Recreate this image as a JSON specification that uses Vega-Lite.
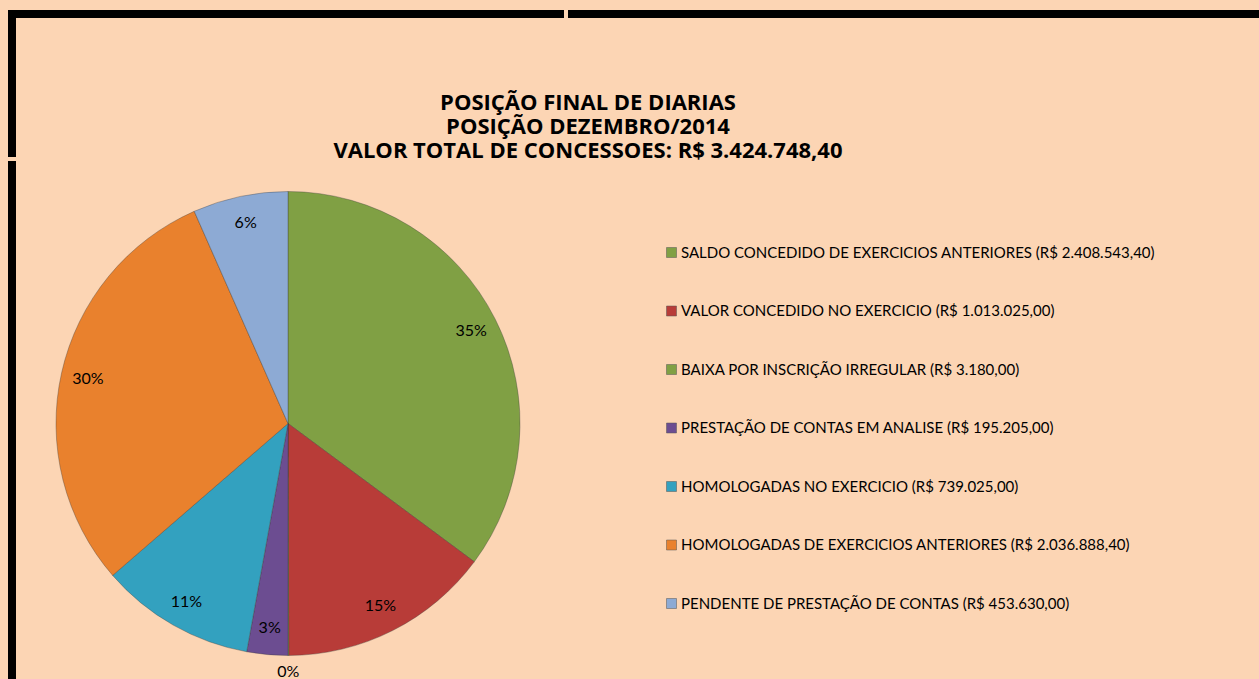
{
  "$schema": "https://vega.github.io/schema/vega-lite/v6.json",
  "autosize": {"type": "pad"},
  "padding": {"left": 8, "top": 10, "right": 0, "bottom": 0},
  "background": "#FCD5B4",
  "title": {
    "text": ["POSIÇÃO FINAL DE DIARIAS", "POSIÇÃO DEZEMBRO/2014", "VALOR TOTAL DE CONCESSOES: R$ 3.424.748,40"],
    "font": "Open Sans",
    "fontSize": 22,
    "fontWeight": "bold",
    "color": "black",
    "lineHeight": 24,
    "anchor": "middle",
    "offset": 0,
    "dx": -51,
    "dy": 153,
    "zindex": 1
  },
  "datasets": {
    "diarias": [
      {"cat": "SALDO CONCEDIDO DE EXERCICIOS ANTERIORES (R$ 2.408.543,40)", "value": 2408543.40, "pct": "35%", "idx": 1},
      {"cat": "VALOR CONCEDIDO NO EXERCICIO (R$ 1.013.025,00)", "value": 1013025.00, "pct": "15%", "idx": 2},
      {"cat": "BAIXA POR INSCRIÇÃO IRREGULAR (R$ 3.180,00)", "value": 3180.00, "pct": "0%", "idx": 3},
      {"cat": "PRESTAÇÃO DE CONTAS EM ANALISE (R$ 195.205,00)", "value": 195205.00, "pct": "3%", "idx": 4},
      {"cat": "HOMOLOGADAS NO EXERCICIO (R$ 739.025,00)", "value": 739025.00, "pct": "11%", "idx": 5},
      {"cat": "HOMOLOGADAS DE EXERCICIOS ANTERIORES (R$ 2.036.888,40)", "value": 2036888.40, "pct": "30%", "idx": 6},
      {"cat": "PENDENTE DE PRESTAÇÃO DE CONTAS (R$ 453.630,00)", "value": 453630.00, "pct": "6%", "idx": 7}
    ]
  },
  "spacing": -16,
  "hconcat": [
    {
      "spacing": -16,
      "vconcat": [
        {
          "width": 552,
          "height": 143,
          "view": {"fill": "#FCD5B4", "stroke": "black", "strokeWidth": 8, "strokeDash": [552, 695, 143]},
          "data": {"values": []},
          "mark": {"type": "point", "opacity": 0},
          "encoding": {}
        },
        {
          "width": 552,
          "height": 525,
          "view": {"fill": "#FCD5B4", "stroke": "black", "strokeWidth": 8, "strokeDash": [0, 1629, 525]},
          "data": {"name": "diarias"},
          "encoding": {
            "theta": {"field": "value", "type": "quantitative", "stack": true},
            "order": {"field": "idx", "type": "quantitative"}
          },
          "layer": [
            {
              "mark": {"type": "arc", "outerRadius": 232, "stroke": "#3a3a3a", "strokeOpacity": 0.35, "strokeWidth": 1},
              "encoding": {
                "color": {
                  "field": "cat",
                  "type": "nominal",
                  "sort": null,
                  "scale": {
                    "range": ["#80A044", "#B83C38", "#80A044", "#6C4D91", "#33A1BF", "#E9812D", "#8DAAD4"]
                  },
                  "legend": {
                    "title": null,
                    "orient": "none",
                    "legendX": 652,
                    "legendY": 231,
                    "symbolType": "square",
                    "symbolSize": 100,
                    "symbolStrokeColor": "#555555",
                    "symbolStrokeWidth": 0.5,
                    "labelFont": "Lato",
                    "labelFontSize": 15,
                    "labelColor": "black",
                    "labelLimit": 700,
                    "labelOffset": 2,
                    "rowPadding": 42.5,
                    "zindex": 1
                  }
                }
              }
            },
            {
              "mark": {"type": "text", "radius": 205, "font": "Lato", "fontSize": 16, "color": "black"},
              "encoding": {
                "text": {"field": "pct", "type": "nominal"},
                "opacity": {"condition": {"test": "datum.value > 10000", "value": 1}, "value": 0}
              }
            },
            {
              "mark": {"type": "text", "radius": 249, "font": "Lato", "fontSize": 16, "color": "black"},
              "encoding": {
                "text": {"field": "pct", "type": "nominal"},
                "opacity": {"condition": {"test": "datum.value > 10000", "value": 0}, "value": 1}
              }
            }
          ]
        }
      ]
    },
    {
      "width": 698,
      "height": 668,
      "view": {"fill": "#FCD5B4", "stroke": "black", "strokeWidth": 8, "strokeDash": [698, 2034]},
      "data": {"values": []},
      "mark": {"type": "point", "opacity": 0},
      "encoding": {}
    }
  ]
}
